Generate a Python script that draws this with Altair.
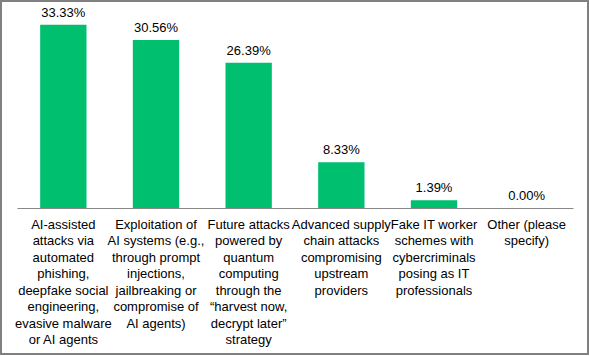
import altair as alt
import pandas as pd

categories = [
    ["AI-assisted", "attacks via", "automated", "phishing,", "deepfake social",
     "engineering,", "evasive malware", "or AI agents"],
    ["Exploitation of", "AI systems (e.g.,", "through prompt", "injections,",
     "jailbreaking or", "compromise of", "AI agents)"],
    ["Future attacks", "powered by", "quantum", "computing", "through the",
     "\u201charvest now,", "decrypt later\u201d", "strategy"],
    ["Advanced supply", "chain attacks", "compromising", "upstream", "providers"],
    ["Fake IT worker", "schemes with", "cybercriminals", "posing as IT", "professionals"],
    ["Other (please", "specify)"],
]
values = [33.33, 30.56, 26.39, 8.33, 1.39, 0.00]

cat_names = ["\n".join(c) for c in categories]
df = pd.DataFrame({"category": cat_names, "value": values})

FONT = "Liberation Sans"
GREEN = "#00BF6F"

x_enc = alt.X(
    "category:N",
    sort=None,
    title=None,
    scale=alt.Scale(paddingInner=0.5, paddingOuter=0.25),
    axis=alt.Axis(
        labelAngle=0,
        labelExpr="split(datum.label, '\\n')",
        labelFont=FONT,
        labelFontSize=13,
        labelColor="#000000",
        labelLineHeight=16.5,
        labelPadding=10,
        labelBaseline="top",
        labelLimit=200,
        ticks=False,
        domainColor="#888888",
        domainWidth=1,
        grid=False,
    ),
)
y_enc = alt.Y("value:Q", axis=None, scale=alt.Scale(domain=[0, 36], nice=False))

base = alt.Chart(df)
bars = base.mark_bar(color=GREEN).encode(x=x_enc, y=y_enc)
labels = base.transform_calculate(
    label="format(datum.value, '.2f') + '%'"
).mark_text(dy=-8, font=FONT, fontSize=13, color="#000000", baseline="alphabetic").encode(
    x=x_enc, y=y_enc, text="label:N"
)

frame = alt.Chart(pd.DataFrame({"f": [0]})).mark_rect(
    fill=None, stroke="#808080", strokeWidth=2
).encode(
    x=alt.value(-16), x2=alt.value(571), y=alt.value(-9), y2=alt.value(344)
)

chart = alt.layer(bars, labels, frame).properties(
    width=556,
    height=198,
    autosize=alt.AutoSizeParams(type="none"),
    padding={"left": 17, "top": 10, "right": 16, "bottom": 148},
    background="white",
).configure_view(stroke=None)

chart.save("out.html", embed_options={"renderer": "svg", "actions": False})
